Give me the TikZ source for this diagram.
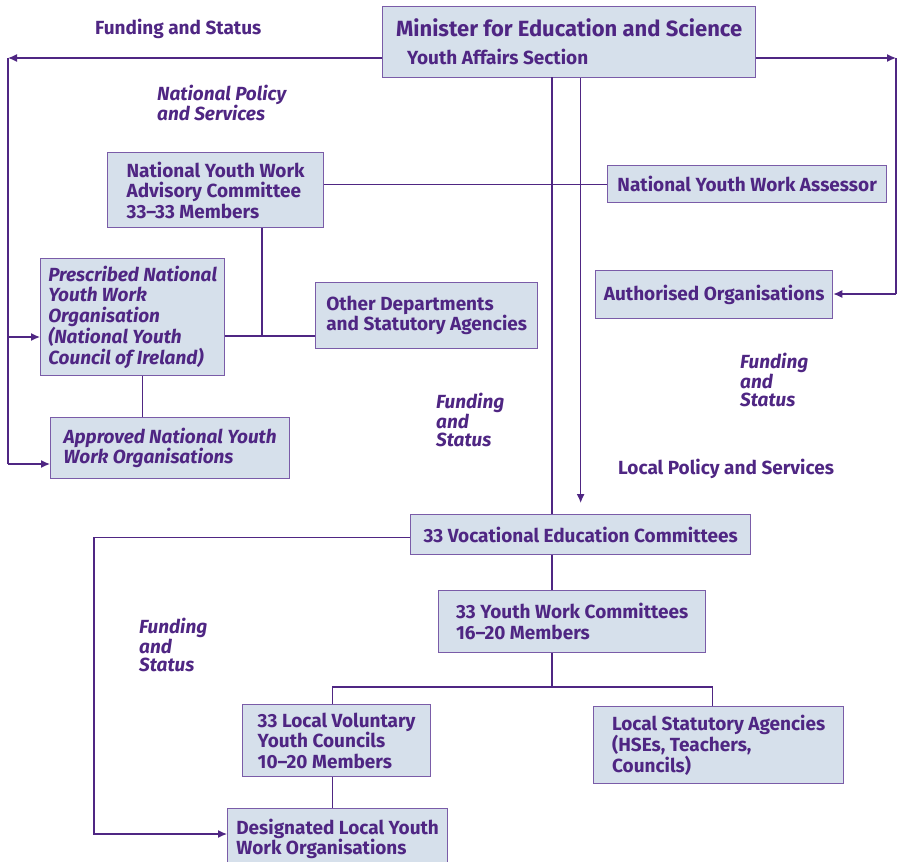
\documentclass[tikz,border=0pt]{standalone}
\usepackage{fontspec}
\setmainfont{Fira Sans}
\definecolor{Ink}{HTML}{4F2683}
\definecolor{BoxFill}{HTML}{D6E0EB}
\definecolor{BoxLine}{HTML}{7A5CA8}
\usetikzlibrary{arrows.meta, positioning}
\tikzset{
  orgbox/.style={draw=BoxLine, line width=1.3pt, fill=BoxFill, text=Ink, align=left, anchor=north west, inner sep=0pt, font=\fontsize{19}{20.5}\selectfont\bfseries},
  itbox/.style={orgbox, font=\fontsize{19}{20.5}\selectfont\bfseries\itshape},
  tag/.style={text=Ink, align=left, anchor=west, inner sep=0pt, font=\fontsize{19}{20.5}\selectfont\bfseries},
  ittag/.style={tag, font=\fontsize{19}{18}\selectfont\bfseries\itshape},
  ln/.style={draw=Ink, line width=1.3pt},
  arr/.style={ln, -{Latex[length=9pt, width=8pt]}}
}

\begin{document}
\begin{tikzpicture}[x=1pt, y=-1pt]
\useasboundingbox (0,0) rectangle (897,862);
% boxes
\node[orgbox, minimum width=373pt, minimum height=71pt, font=\fontsize{19}{28}\selectfont\bfseries] (min) at (382,6)
  {{\fontsize{22}{28}\selectfont Minister for Education and Science}\\\hspace*{11pt}Youth Affairs Section};
\node[orgbox, minimum width=216pt, minimum height=75pt] (nywac) at (107,152) {National Youth Work\\Advisory Committee\\33--33 Members};
\node[orgbox, minimum width=279pt, minimum height=37pt] (ass) at (607,165) {National Youth Work Assessor};
\node[orgbox, minimum width=237pt, minimum height=48pt] (auth) at (595,270) {Authorised Organisations};
\node[itbox, minimum width=184pt, minimum height=117pt] (pres) at (40,258) {Prescribed National\\Youth Work\\Organisation\\(National Youth\\Council of Ireland)};
\node[orgbox, minimum width=222pt, minimum height=66pt] (other) at (315,282) {Other Departments\\and Statutory Agencies};
\node[itbox, minimum width=239pt, minimum height=61pt] (appr) at (50,417) {Approved National Youth\\Work Organisations};
\node[orgbox, minimum width=340pt, minimum height=40pt] (vec) at (410,514) {33 Vocational Education Committees};
\node[orgbox, minimum width=267pt, minimum height=62pt] (ywc) at (438,590) {33 Youth Work Committees\\16--20 Members};
\node[orgbox, minimum width=188pt, minimum height=72pt] (lvyc) at (242,704) {33 Local Voluntary\\Youth Councils\\10--20 Members};
\node[orgbox, minimum width=250pt, minimum height=77pt] (lsa) at (593,706) {Local Statutory Agencies\\(HSEs, Teachers,\\Councils)};
\node[orgbox, minimum width=220pt, minimum height=60pt] (desg) at (227,808) {Designated Local Youth\\Work Organisations};
% labels
\node[tag] (fsTop) at (95,29) {Funding and Status};
\node[tag, font=\fontsize{19}{20.5}\selectfont\bfseries\itshape] (nps) at (157,103) {National Policy\\and Services};
\node[ittag] (fsMid) at (436,420) {Funding\\and\\Status};
\node[ittag] (fsRight) at (740,380) {Funding\\and\\Status};
\node[tag] (lps) at (618,469) {Local Policy and Services};
\node[ittag] (fsLow) at (139,645) {Funding\\and\\Status};
% connectors
\coordinate (nw) at (8,58);
\coordinate (pw) at (8,337);
\coordinate (sw) at (8,464);
\coordinate (ne) at (896,58);
\coordinate (se) at (896,294);
\coordinate (j1) at (262,336);
\coordinate (axis) at (552,77);
\coordinate (fork) at (552,687);
\coordinate (lw) at (94,834);
\draw[arr] (min.west |- nw) -- (nw);
\draw[ln] (nw) -- (sw);
\draw[arr] (pw) -- (pres.west |- pw);
\draw[arr] (sw) -- (appr.west |- sw);
\draw[arr] (min.east |- ne) -- (ne);
\draw[ln] (ne) -- (se);
\draw[arr] (se) -- (auth.east |- se);
\draw[ln] (nywac.east |- ass.west) -- (ass.west);
\draw[ln] (nywac.south -| j1) -- (j1);
\draw[ln] (pres.east |- j1) -- (other.west |- j1);
\draw[ln] ([xshift=10pt]pres.south) -- ([xshift=10pt]pres.south |- appr.north);
\draw[ln] (axis) -- (axis |- vec.north);
\draw[arr] (min.south -| vec.north) -- ([yshift=11pt]vec.north);
\draw[arr] ([yshift=-3pt]vec.west) -| (lw) -- (lw -| desg.west);
\draw[ln] (axis |- vec.south) -- (axis |- ywc.north);
\draw[ln] (axis |- ywc.south) -- (fork);
\draw[ln] ([xshift=-4pt]lvyc.north) -- ([xshift=-4pt]lvyc.north |- fork) -- ([xshift=-6pt]lsa.north |- fork) -- ([xshift=-6pt]lsa.north);
\draw[ln] ([xshift=-4pt]lvyc.south) -- ([xshift=-4pt]lvyc.south |- desg.north);
\end{tikzpicture}
\end{document}
